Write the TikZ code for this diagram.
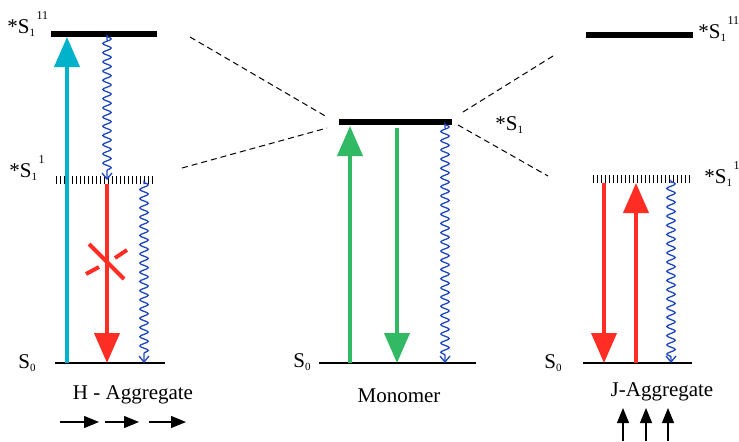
\documentclass[tikz,border=0pt]{standalone}
\usepackage{fontspec}
\setmainfont{Liberation Serif}
\usetikzlibrary{arrows.meta,decorations.pathmorphing}
\definecolor{hcyan}{RGB}{0,178,202}
\definecolor{fred}{RGB}{255,45,35}
\definecolor{mgreen}{RGB}{50,185,100}
\definecolor{wblue}{RGB}{30,70,190}
\newcommand\lsub[1]{\raisebox{-0.35ex}{\fontsize{5.5}{5.5}\selectfont #1}}
\newcommand\lsup[1]{\raisebox{1.35ex}{\fontsize{6}{6}\selectfont\kern0.8pt #1}}

\begin{document}
\begin{tikzpicture}[x=0.5pt,y=-0.5pt,
    lvl/.style={line width=3pt},
    vib/.style={line width=4pt, dash pattern=on 0.6pt off 1.4pt},
    gnd/.style={line width=0.6pt},
    conn/.style={line width=0.5pt, dash pattern=on 3pt off 2pt},
    big/.style={line width=2pt, -{Triangle[length=15pt,width=12.5pt]}},
    ic/.style={wblue, line width=0.65pt, -{Straight Barb[length=3pt,width=5pt]},
               decorate, decoration={snake, amplitude=2.1pt, segment length=4.6pt,
               pre length=1pt, post length=3pt}},
    cross/.style={fred, line width=2pt},
    dip/.style={line width=0.6pt, -{Triangle[length=7.5pt,width=6pt]}},
    lbl/.style={inner sep=0pt, anchor=base west, font=\fontsize{10.5}{12}\selectfont},
    aggname/.style={inner sep=0pt, font=\fontsize{10.5}{12}\selectfont}
  ]
  \useasboundingbox (0,0) rectangle (739,441);

  % H - aggregate
  \coordinate (hS2) at (51,34);  \coordinate (hS2e) at (157,34);
  \coordinate (hS1) at (56,180); \coordinate (hS1e) at (153,180);
  \coordinate (hS0) at (55,363); \coordinate (hS0e) at (165,363);
  \coordinate (hc1) at (67,0); \coordinate (hc2) at (107,0); \coordinate (hc3) at (144,0);
  \draw[lvl] (hS2) -- (hS2e);
  \draw[vib] (hS1) -- (hS1e);
  \draw[gnd] (hS0) -- (hS0e);
  \node[lbl] (hL2) at (7,33) {*S\lsub{1}\lsup{11}};
  \node[lbl] (hL1) at (9,177) {*S\lsub{1}\lsup{1}};
  \node[lbl] (hL0) at (18,368) {S\lsub{0}};
  \draw[big, hcyan, shorten >=1.5pt] (hc1 |- hS0) -- (hc1 |- hS2);
  \draw[ic, shorten <=3pt] (hc2 |- hS2) -- (hc2 |- hS1);
  \draw[big, fred, shorten <=2pt] (hc2 |- hS1) -- (hc2 |- hS0);
  \draw[ic, shorten <=2pt] (hc3 |- hS1) -- (hc3 |- hS0);
  \coordinate (hx1) at (89,244);  \coordinate (hx2) at (124,279);
  \coordinate (hx3) at (86,274);  \coordinate (hx4) at (99,267);
  \coordinate (hx5) at (115,258); \coordinate (hx6) at (127,250);
  \draw[cross] (hx1) -- (hx2);
  \draw[cross] (hx3) -- (hx4);
  \draw[cross] (hx5) -- (hx6);
  \node[aggname] (hName) at (133,395) {H - Aggregate};
  \coordinate (hd1) at (60,422);  \coordinate (hd1e) at (99,422);
  \coordinate (hd2) at (105,422); \coordinate (hd2e) at (139,422);
  \coordinate (hd3) at (149,422); \coordinate (hd3e) at (186,422);
  \draw[dip] (hd1) -- (hd1e);
  \draw[dip] (hd2) -- (hd2e);
  \draw[dip] (hd3) -- (hd3e);

  % Monomer
  \coordinate (mS1) at (339,122); \coordinate (mS1e) at (452,122);
  \coordinate (mS0) at (319,363); \coordinate (mS0e) at (476,363);
  \coordinate (mc1) at (350,0); \coordinate (mc2) at (397,0); \coordinate (mc3) at (445,0);
  \draw[lvl] (mS1) -- (mS1e);
  \draw[gnd] (mS0) -- (mS0e);
  \node[lbl] (mL1) at (495,130) {*S\lsub{1}};
  \node[lbl] (mL0) at (293,367) {S\lsub{0}};
  \draw[big, mgreen, shorten >=2pt] (mc1 |- mS0) -- (mc1 |- mS1);
  \draw[big, mgreen, shorten <=3pt] (mc2 |- mS1) -- (mc2 |- mS0);
  \draw[ic, shorten <=3pt] (mc3 |- mS1) -- (mc3 |- mS0);
  \node[aggname] (mName) at (399,396) {Monomer};

  % J - aggregate
  \coordinate (jS2) at (586,35);  \coordinate (jS2e) at (693,35);
  \coordinate (jS1) at (593,179); \coordinate (jS1e) at (690,179);
  \coordinate (jS0) at (583,363); \coordinate (jS0e) at (692,363);
  \coordinate (jc1) at (604,0); \coordinate (jc2) at (636,0); \coordinate (jc3) at (671,0);
  \draw[lvl] (jS2) -- (jS2e);
  \draw[vib] (jS1) -- (jS1e);
  \draw[gnd] (jS0) -- (jS0e);
  \node[lbl] (jL2) at (698,38) {*S\lsub{1}\lsup{11}};
  \node[lbl] (jL1) at (704,183) {*S\lsub{1}\lsup{1}};
  \node[lbl] (jL0) at (544,368) {S\lsub{0}};
  \draw[big, fred, shorten <=2pt] (jc1 |- jS1) -- (jc1 |- jS0);
  \draw[big, fred, shorten >=2pt] (jc2 |- jS0) -- (jc2 |- jS1);
  \draw[ic, shorten <=2pt] (jc3 |- jS1) -- (jc3 |- jS0);
  \node[aggname] (jName) at (662,392) {J-Aggregate};
  \coordinate (jd1) at (623,441); \coordinate (jd1e) at (623,408);
  \coordinate (jd2) at (646,441); \coordinate (jd2e) at (646,408);
  \coordinate (jd3) at (668,441); \coordinate (jd3e) at (668,408);
  \draw[dip] (jd1) -- (jd1e);
  \draw[dip] (jd2) -- (jd2e);
  \draw[dip] (jd3) -- (jd3e);

  % splitting lines
  \coordinate (s1) at (190,37);  \coordinate (s1e) at (327,117);
  \coordinate (s2) at (182,168); \coordinate (s2e) at (327,128);
  \coordinate (s3) at (463,112); \coordinate (s3e) at (553,56);
  \coordinate (s4) at (458,125); \coordinate (s4e) at (548,176);
  \draw[conn] (s1) -- (s1e);
  \draw[conn] (s2) -- (s2e);
  \draw[conn] (s3) -- (s3e);
  \draw[conn] (s4) -- (s4e);
\end{tikzpicture}
\end{document}
